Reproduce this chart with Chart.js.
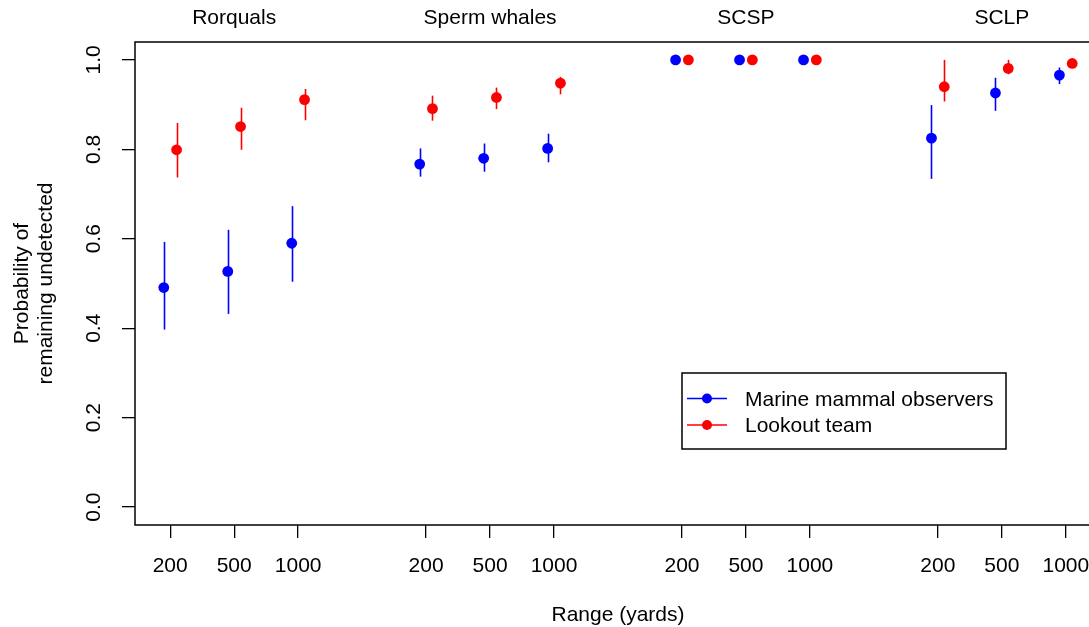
<!DOCTYPE html>
<html>
<head>
<meta charset="utf-8">
<script src="https://cdn.jsdelivr.net/npm/chart.js@4"></script>
<style>
  html, body { margin: 0; padding: 0; background: #fff; overflow: hidden; }
  #wrap { width: 1089px; height: 627px; overflow: hidden; }
</style>
</head>
<body>
<div id="wrap"><canvas id="detChart" width="1120" height="627"></canvas></div>
<script>
// groups and ranges
const groups = ['Rorquals', 'Sperm whales', 'SCSP', 'SCLP'];
const ranges = ['200', '500', '1000'];
const yTicks = [0, 0.2, 0.4, 0.6, 0.8, 1.0];

// Marine mammal observers (estimate, lower, upper)
const mmoEst = [0.491, 0.527, 0.590, 0.767, 0.780, 0.802, 1, 1, 1, 0.825, 0.926, 0.966];
const mmoLo  = [0.397, 0.432, 0.504, 0.739, 0.750, 0.771, 1, 1, 1, 0.734, 0.886, 0.946];
const mmoHi  = [0.593, 0.620, 0.673, 0.802, 0.813, 0.835, 1, 1, 1, 0.899, 0.960, 0.983];

// Lookout team
const lookEst = [0.799, 0.851, 0.911, 0.891, 0.916, 0.948, 1, 1, 1, 0.940, 0.981, 0.992];
const lookLo  = [0.737, 0.799, 0.865, 0.864, 0.890, 0.923, 1, 1, 1, 0.907, 0.968, 0.985];
const lookHi  = [0.859, 0.893, 0.935, 0.920, 0.938, 0.962, 1, 1, 1, 1.000, 1.000, 0.998];

const FONT = '21px "Liberation Sans", Arial, sans-serif';
const BLUE = '#0000FF';
const RED = '#FF0000';

// x slot for group g, range r: groups 4 units apart
const tickPos = [];
groups.forEach((_, g) => ranges.forEach((_, r) => tickPos.push(1 + 4 * g + r)));

function toPoints(est, lo, hi, off) {
    return est.map((v, i) => ({ x: tickPos[i] + off, y: v, lo: lo[i], hi: hi[i] }));
}

const errorBars = {
    id: 'errorBars',
    beforeDatasetsDraw(chart) {
        const { ctx, scales: { x, y } } = chart;
        ctx.save();
        chart.data.datasets.forEach(ds => {
            ctx.strokeStyle = ds.backgroundColor;
            ctx.lineWidth = 1.6;
            ds.data.forEach(p => {
                const px = Math.round(x.getPixelForValue(p.x)) + 0.5;
                ctx.beginPath();
                ctx.moveTo(px, y.getPixelForValue(p.lo));
                ctx.lineTo(px, y.getPixelForValue(p.hi));
                ctx.stroke();
            });
        });
        ctx.restore();
    }
};

const decorations = {
    id: 'decorations',
    afterDraw(chart) {
        const { ctx, chartArea: a, scales: { x, y } } = chart;
        ctx.save();
        // box
        ctx.strokeStyle = '#000';
        ctx.lineWidth = 1.5;
        ctx.strokeRect(a.left, a.top, a.right - a.left, a.bottom - a.top);

        ctx.fillStyle = '#000';
        ctx.font = FONT;
        ctx.textAlign = 'center';
        ctx.textBaseline = 'alphabetic';

        // group titles
        groups.forEach((g, i) => ctx.fillText(g, x.getPixelForValue(2 + 4 * i), 24));

        // x tick labels
        tickPos.forEach((v, i) => ctx.fillText(ranges[i % 3], x.getPixelForValue(v), 572));

        // x title
        ctx.fillText('Range (yards)', (a.left + a.right) / 2, 621);

        // y tick labels (rotated)
        yTicks.forEach(v => {
            ctx.save();
            ctx.translate(100, y.getPixelForValue(v));
            ctx.rotate(-Math.PI / 2);
            ctx.fillText(v.toFixed(1), 0, 0);
            ctx.restore();
        });

        // y title
        const cy = (a.top + a.bottom) / 2;
        ctx.save();
        ctx.translate(28, cy);
        ctx.rotate(-Math.PI / 2);
        ctx.fillText('Probability of', 0, 0);
        ctx.restore();
        ctx.save();
        ctx.translate(51.5, cy);
        ctx.rotate(-Math.PI / 2);
        ctx.fillText('remaining undetected', 0, 0);
        ctx.restore();

        // legend
        const lx = 682, ly = 373, lw = 324, lh = 76;
        ctx.fillStyle = '#fff';
        ctx.fillRect(lx, ly, lw, lh);
        ctx.strokeStyle = '#000';
        ctx.lineWidth = 1.5;
        ctx.strokeRect(lx, ly, lw, lh);
        const rowsY = [398.5, 425];
        const baseY = [406, 432];
        chart.data.datasets.forEach((ds, i) => {
            ctx.strokeStyle = ds.backgroundColor;
            ctx.lineWidth = 1.6;
            ctx.beginPath();
            ctx.moveTo(687, rowsY[i]);
            ctx.lineTo(727, rowsY[i]);
            ctx.stroke();
            ctx.fillStyle = ds.backgroundColor;
            ctx.beginPath();
            ctx.arc(707, rowsY[i], 5, 0, Math.PI * 2);
            ctx.fill();
            ctx.fillStyle = '#000';
            ctx.textAlign = 'left';
            ctx.fillText(ds.label, 745, baseY[i]);
        });
        ctx.restore();
    }
};

new Chart(document.getElementById('detChart'), {
    type: 'scatter',
    data: {
        datasets: [
            { label: 'Marine mammal observers', data: toPoints(mmoEst, mmoLo, mmoHi, -0.1),
              backgroundColor: BLUE, borderColor: BLUE, pointRadius: 5.4, borderWidth: 0 },
            { label: 'Lookout team', data: toPoints(lookEst, lookLo, lookHi, 0.1),
              backgroundColor: RED, borderColor: RED, pointRadius: 5.4, borderWidth: 0 }
        ]
    },
    options: {
        responsive: false, animation: false,
        layout: { padding: { top: 42, right: 19, left: 0, bottom: 0 } },
        plugins: { legend: { display: false }, tooltip: { enabled: false } },
        scales: {
            x: {
                type: 'linear', min: 0.45, max: 15.55,
                afterBuildTicks: s => { s.ticks = tickPos.map(v => ({ value: v })); },
                afterFit: s => { s.height = 102; },
                grid: { display: true, drawOnChartArea: false, drawTicks: true, tickLength: 13, color: '#000', lineWidth: 1.3 },
                border: { display: false },
                ticks: { display: false }
            },
            y: {
                min: -0.04, max: 1.04,
                afterBuildTicks: s => { s.ticks = yTicks.map(v => ({ value: v })); },
                afterFit: s => { s.width = 135; },
                grid: { display: true, drawOnChartArea: false, drawTicks: true, tickLength: 13, color: '#000', lineWidth: 1.3 },
                border: { display: false },
                ticks: { display: false }
            }
        }
    },
    plugins: [errorBars, decorations]
});
</script>
</body>
</html>
